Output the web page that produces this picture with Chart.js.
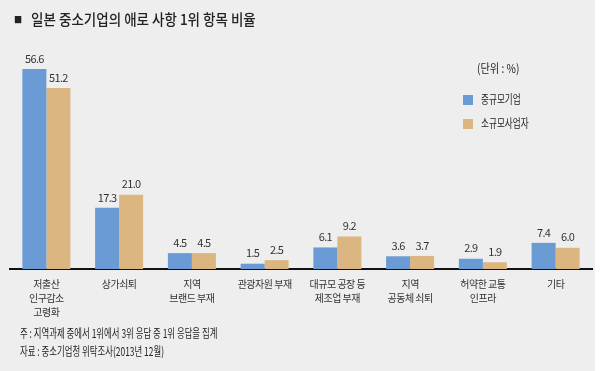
<!DOCTYPE html>
<html>
<head>
<meta charset="utf-8">
<script src="https://cdn.jsdelivr.net/npm/chart.js@4"></script>
<style>
  html, body { margin: 0; padding: 0; background: #fff; }
  #wrap { position: relative; width: 595px; height: 371px; background: #eeeeee; overflow: hidden; }
  #wrap canvas { position: absolute; left: 0; top: 0; }
  .txt { position: absolute; white-space: nowrap; transform-origin: 0 50%; color: #222;
         font-family: "Noto Sans CJK KR", sans-serif; }
  .sq { display: inline-block; width: 10px; height: 10px; margin-right: 8px; vertical-align: -1px; }
</style>
</head>
<body>
<div id="wrap">
  <canvas id="myChart" width="600" height="371"></canvas>
  <div class="txt" style="left:14px; top:8px; font-size:15px; font-weight:500; transform:scaleX(0.9);"><span style="font-size:9px; vertical-align:2px; margin-right:10px;">■</span>일본 중소기업의 애로 사항 1위 항목 비율</div>
  <div class="txt" style="left:477px; top:59px; font-size:12px; transform:scaleX(0.85);">(단위 : %)</div>
  <div class="txt" id="legend1" style="left:463px; top:90px; font-size:12px;"></div>
  <div class="txt" id="legend2" style="left:463px; top:114px; font-size:12px;"></div>
  <div class="txt" style="left:20px; top:324px; font-size:12px; transform:scaleX(0.7);">주 : 지역과제 중에서 1위에서 3위 응답 중 1위 응답을 집계</div>
  <div class="txt" style="left:20px; top:342px; font-size:12px; transform:scaleX(0.7);">자료 : 중소기업청 위탁조사(2013년 12월)</div>
</div>
<script>
// categories and values
const categories = [
	['저출산', '인구감소', '고령화'],
	'상가쇠퇴',
	['지역', '브랜드 부재'],
	'관광자원 부재',
	['대규모 공장 등', '제조업 부재'],
	['지역', '공동체 쇠퇴'],
	['허약한 교통', '인프라'],
	'기타'
];
const seriesNames = ['중규모기업', '소규모사업자'];
const mediumFirms = [56.6, 17.3, 4.5, 1.5, 6.1, 3.6, 2.9, 7.4];
const smallFirms = [51.2, 21.0, 4.5, 2.5, 9.2, 3.7, 1.9, 6.0];

const COLORS = ['#6a9bd4', '#dbb680'];

// html legend, squeezed a little like the original type
[1, 2].forEach(function (n) {
	let el = document.getElementById('legend' + n);
	el.innerHTML = '<span class="sq" style="background:' + COLORS[n - 1] + '"></span>' +
		'<span style="display:inline-block; transform:scaleX(0.72); transform-origin:0 50%;">' + seriesNames[n - 1] + '</span>';
});

const valueLabels = {
	id: 'valueLabels',
	beforeDraw(chart) {
		chart.ctx.letterSpacing = '-0.5px';
	},
	afterDatasetsDraw(chart) {
		const ctx = chart.ctx;
		ctx.save();
		ctx.font = '11px "Noto Sans CJK KR", sans-serif';
		ctx.fillStyle = '#333';
		ctx.textAlign = 'center';
		ctx.textBaseline = 'bottom';
		ctx.letterSpacing = '-0.6px';
		chart.data.datasets.forEach(function (ds, i) {
			chart.getDatasetMeta(i).data.forEach(function (bar, j) {
				ctx.fillText(ds.data[j].toFixed(1), bar.x, bar.y - 5);
			});
		});
		ctx.restore();
	}
};

const data = {
	labels: categories,
	datasets: [
		{ label: seriesNames[0], data: mediumFirms, backgroundColor: COLORS[0] },
		{ label: seriesNames[1], data: smallFirms, backgroundColor: COLORS[1] }
	]
};

const config = {
	type: 'bar',
	data: data,
	options: {
		responsive: false,
		animation: false,
		events: [],
		layout: { padding: { left: 10, right: 8, top: 57, bottom: 0 } },
		datasets: { bar: { categoryPercentage: 0.66, barPercentage: 1 } },
		plugins: {
			legend: { display: false },
			tooltip: { enabled: false }
		},
		scales: {
			x: {
				grid: { display: false },
				border: { display: true, color: '#111', width: 2 },
				ticks: {
					color: '#333',
					padding: 0,
					autoSkip: false,
					maxRotation: 0,
					font: { family: '"Noto Sans CJK KR", sans-serif', size: 10, lineHeight: 1.4 }
				},
				afterFit(scale) { scale.height = 371 - 269; }
			},
			y: {
				display: false,
				min: 0,
				max: 60
			}
		}
	},
	plugins: [valueLabels]
};

const myChart = new Chart(document.getElementById('myChart'), config);
</script>
</body>
</html>
